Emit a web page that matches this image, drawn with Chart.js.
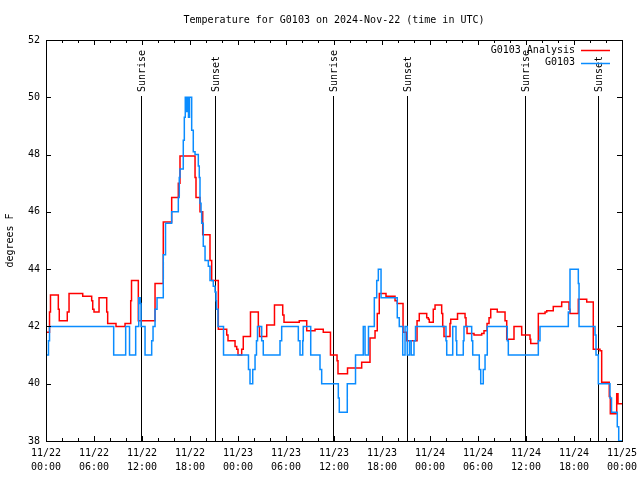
<!DOCTYPE html>
<html>
<head>
<meta charset="utf-8">
<script src="https://cdn.jsdelivr.net/npm/chart.js@4/dist/chart.umd.min.js"></script>
<style>
  body { margin: 0; background: #fff; }
  #tempChart { display: block; }
</style>
</head>
<body>
<canvas id="tempChart" width="640" height="480"></canvas>
<script>
// hours since 11/22 00:00 UTC where each series changes value (stepped)
const analysisHours = [0, 0.44, 0.56, 1.54, 1.66, 2.66, 2.88, 4.59, 5.71, 5.84, 6.0, 6.63, 7.59, 7.71, 8.75, 9.88,
  10.59, 10.69, 11.54, 13.63, 14.66, 15.71, 16.54, 16.75, 18.63, 18.75, 19.25, 19.59, 20.5, 20.71, 21.54, 22.59,
  22.75, 23.63, 23.84, 24.0, 24.46, 24.66, 25.56, 26.54, 26.69, 27.59, 28.56, 29.59, 29.75, 31.66, 32.59, 33.63,
  34.66, 35.56, 36.38, 36.5, 37.69, 39.46, 40.5, 41.13, 41.41, 41.66, 42.5, 43.63, 43.91, 44.63, 45.08, 46.38,
  46.66, 47.59, 47.79, 47.91, 48.41, 48.63, 49.46, 49.59, 49.75, 50.5, 50.59, 51.44, 52.38, 52.5, 52.63, 53.5,
  54.46, 54.75, 55.13, 55.38, 55.59, 56.41, 57.38, 57.59, 58.5, 59.46, 60.5, 60.59, 61.54, 62.38, 62.59, 63.41,
  64.46, 65.38, 65.5, 66.54, 67.59, 68.41, 69.25, 69.46, 70.41, 70.54, 71.34, 71.5];
const analysisTemps = [41.8, 42.5, 43.1, 42.6, 42.2, 42.5, 43.15, 43.05, 42.9, 42.6, 42.5, 43.0, 42.5, 42.1, 42.0, 42.1,
  42.9, 43.6, 42.2, 43.5, 45.65, 46.5, 47.0, 47.95, 47.2, 46.5, 46.0, 45.2, 44.3, 43.6, 41.9, 41.7,
  41.5, 41.3, 41.2, 41.0, 41.2, 41.65, 42.5, 42.0, 41.65, 42.05, 42.75, 42.4, 42.15, 42.2, 41.85, 41.9,
  41.8, 41.0, 40.8, 40.35, 40.55, 40.75, 41.6, 41.85, 42.45, 43.15, 43.05, 42.9, 42.8, 41.8, 41.5, 42.2,
  42.45, 42.3, 42.25, 42.15, 42.6, 42.75, 42.45, 42.0, 41.65, 42.1, 42.25, 42.45, 42.3, 42.0, 41.75, 41.7,
  41.75, 41.85, 42.1, 42.3, 42.6, 42.5, 42.2, 41.55, 42.0, 41.7, 41.55, 41.4, 42.45, 42.5, 42.55, 42.7,
  42.85, 42.6, 42.45, 42.95, 42.85, 41.2, 41.15, 40.05, 39.55, 38.95, 39.65, 39.3];

const obsHours = [0, 0.31, 0.44, 8.46, 9.96, 10.44, 11.21, 11.59, 11.78, 11.88, 12.38, 13.21, 13.38, 13.63, 13.88,
  14.66, 14.94, 15.71, 16.54, 16.66, 16.75, 17.16, 17.29, 17.41, 17.56, 17.69, 17.81, 17.94, 18.21, 18.41, 18.63,
  19.04, 19.16, 19.25, 19.38, 19.46, 19.66, 19.88, 20.29, 20.5, 20.91, 21.13, 21.25, 21.31, 21.5, 22.19, 25.31,
  25.5, 25.84, 26.13, 26.31, 26.44, 26.96, 27.16, 29.25, 29.46, 31.54, 31.75, 32.09, 32.16, 33.09, 34.25, 34.46,
  36.54, 36.66, 37.66, 38.69, 39.66, 39.88, 40.31, 41.04, 41.34, 41.54, 41.88, 43.91, 44.16, 44.59, 44.88, 45.16,
  45.44, 45.65, 46.0, 46.19, 50.0, 50.09, 50.84, 51.25, 51.34, 52.16, 52.25, 53.21, 53.34, 54.16, 54.34, 54.66,
  54.88, 55.16, 57.66, 57.79, 61.54, 61.75, 65.29, 65.5, 66.54, 66.63, 68.63, 68.75, 69.04, 70.5, 70.69, 71.41, 71.59];
const obsTemps = [41, 41.5, 42, 41, 42, 41, 42, 43, 42.8, 42, 41, 41.5, 42, 42.6, 43,
  44.5, 45.6, 46, 46.5, 47.2, 47.5, 48.5, 49.3, 50, 49.5, 50, 49.3, 50, 48.85, 48.1, 48,
  47.6, 47.2, 46.3, 46, 45.6, 44.8, 44.3, 44.1, 43.6, 43.4, 43.2, 42.9, 42.6, 42, 41, 40.5,
  40, 40.5, 41, 41.5, 42, 41.5, 41, 41.5, 42, 41.5, 41, 41.5, 42, 41, 40.5, 40,
  39.5, 39, 40, 41, 42, 41, 42, 43, 43.6, 44, 43, 42.3, 42, 41, 42, 41,
  41.5, 41, 41.5, 42, 41.5, 41, 42, 41.5, 41, 41.5, 42, 41.5, 41, 40.5, 40, 40.5,
  41, 42, 41.5, 41, 41.5, 42, 42.5, 44, 43.5, 42, 41.7, 41, 40, 39.5, 39, 38.5, 38];

const sunHours = [11.9, 21.15, 35.9, 45.15, 59.9, 69.05];
const sunLabels = ['Sunrise', 'Sunset', 'Sunrise', 'Sunset', 'Sunrise', 'Sunset'];

const yTicks = [38, 40, 42, 44, 46, 48, 50, 52];
const xTickHours = [0, 6, 12, 18, 24, 30, 36, 42, 48, 54, 60, 66, 72];

const FONT = "'DejaVu Sans Mono', 'Liberation Mono', monospace";
const RED = '#ff0000';
const BLUE = '#0a8cff';

function toPoints(hours, temps) {
  const pts = hours.map((h, i) => ({ x: h, y: temps[i] }));
  pts.push({ x: 72, y: temps[temps.length - 1] });
  return pts;
}

function tickLabel(h) {
  const day = 22 + Math.floor(h / 24);
  const hr = h % 24;
  return ['11/' + day, (hr < 10 ? '0' : '') + hr + ':00'];
}

// gnuplot style frame, inward ticks, sunrise/sunset markers and legend
const gnuplotBits = {
  id: 'gnuplotBits',
  beforeDatasetsDraw(chart) {
    const ctx = chart.ctx;
    const xs = chart.scales.x;
    const area = chart.chartArea;
    ctx.save();
    ctx.strokeStyle = '#000';
    ctx.fillStyle = '#000';
    ctx.lineWidth = 1;
    ctx.font = '10px ' + FONT;
    sunHours.forEach((h, i) => {
      const x = Math.round(xs.getPixelForValue(h)) + 0.5;
      ctx.beginPath();
      ctx.moveTo(x, 96);
      ctx.lineTo(x, area.bottom);
      ctx.stroke();
      ctx.save();
      ctx.translate(x + 1, 92);
      ctx.rotate(-Math.PI / 2);
      ctx.textAlign = 'left';
      ctx.textBaseline = 'middle';
      ctx.fillText(sunLabels[i], 0, 0);
      ctx.restore();
    });
    ctx.restore();
  },
  afterDatasetsDraw(chart) {
    const ctx = chart.ctx;
    const xs = chart.scales.x;
    const ys = chart.scales.y;
    const a = chart.chartArea;
    ctx.save();
    ctx.strokeStyle = '#000';
    ctx.lineWidth = 1;
    ctx.beginPath();
    // x ticks every 2 h, longer every 6 h, bottom and top
    for (let h = 0; h <= 72; h += 2) {
      const x = Math.round(xs.getPixelForValue(h)) + 0.5;
      const len = h % 6 === 0 ? 5 : 3;
      ctx.moveTo(x, a.bottom); ctx.lineTo(x, a.bottom - len);
      ctx.moveTo(x, a.top); ctx.lineTo(x, a.top + len);
    }
    yTicks.forEach(v => {
      const y = Math.round(ys.getPixelForValue(v)) + 0.5;
      ctx.moveTo(a.left, y); ctx.lineTo(a.left + 5, y);
      ctx.moveTo(a.right, y); ctx.lineTo(a.right - 5, y);
    });
    ctx.stroke();
    ctx.strokeRect(Math.round(a.left) + 0.5, Math.round(a.top) + 0.5,
      Math.round(a.right - a.left), Math.round(a.bottom - a.top));

    // legend, inside top right
    ctx.font = '10px ' + FONT;
    ctx.fillStyle = '#000';
    ctx.textAlign = 'right';
    ctx.textBaseline = 'middle';
    const sets = [chart.data.datasets[1], chart.data.datasets[0]];
    sets.forEach((ds, i) => {
      const y = 50 + i * 12.5;
      ctx.fillText(ds.label, 575, y);
      ctx.strokeStyle = ds.borderColor;
      ctx.lineWidth = 1.5;
      ctx.beginPath();
      ctx.moveTo(581, Math.round(y) + 0.5);
      ctx.lineTo(610, Math.round(y) + 0.5);
      ctx.stroke();
    });
    ctx.restore();
  }
};

new Chart(document.getElementById('tempChart'), {
  type: 'line',
  data: {
    datasets: [{
      label: 'G0103',
      data: toPoints(obsHours, obsTemps),
      borderColor: BLUE,
      borderWidth: 1.5,
      stepped: true,
      pointRadius: 0,
      order: 1
    },
    {
      label: 'G0103 Analysis',
      data: toPoints(analysisHours, analysisTemps),
      borderColor: RED,
      borderWidth: 1.5,
      stepped: true,
      pointRadius: 0,
      order: 2
    }]
  },
  options: {
    responsive: false,
    animation: false,
    layout: { padding: { left: 0, right: 18, top: 0, bottom: 0 } },
    plugins: {
      legend: { display: false },
      tooltip: { enabled: false },
      title: {
        display: true,
        fullSize: false,
        text: 'Temperature for G0103 on 2024-Nov-22 (time in UTC)',
        color: '#000',
        font: { family: FONT, size: 10, weight: 'normal' },
        padding: { top: 14, bottom: 14 }
      }
    },
    scales: {
      x: {
        type: 'linear',
        min: 0,
        max: 72,
        afterBuildTicks: scale => { scale.ticks = xTickHours.map(v => ({ value: v })); },
        afterFit: scale => { scale.height = 39; scale.paddingLeft = 0; scale.paddingRight = 0; },
        grid: { display: false, drawTicks: false },
        border: { display: false },
        ticks: {
          color: '#000',
          font: { family: FONT, size: 10, lineHeight: 1.45 },
          padding: 5,
          maxRotation: 0,
          autoSkip: false,
          callback: v => tickLabel(v)
        }
      },
      y: {
        min: 38,
        max: 52,
        afterBuildTicks: scale => { scale.ticks = yTicks.map(v => ({ value: v })); },
        afterFit: scale => { scale.width = 46; scale.paddingTop = 0; scale.paddingBottom = 0; },
        grid: { display: false, drawTicks: false },
        border: { display: false },
        title: {
          display: true,
          text: 'degrees F',
          color: '#000',
          font: { family: FONT, size: 10 },
          padding: { top: 4, bottom: 0 }
        },
        ticks: {
          color: '#000',
          font: { family: FONT, size: 10 },
          padding: 6
        }
      }
    }
  },
  plugins: [gnuplotBits]
});
</script>
</body>
</html>
